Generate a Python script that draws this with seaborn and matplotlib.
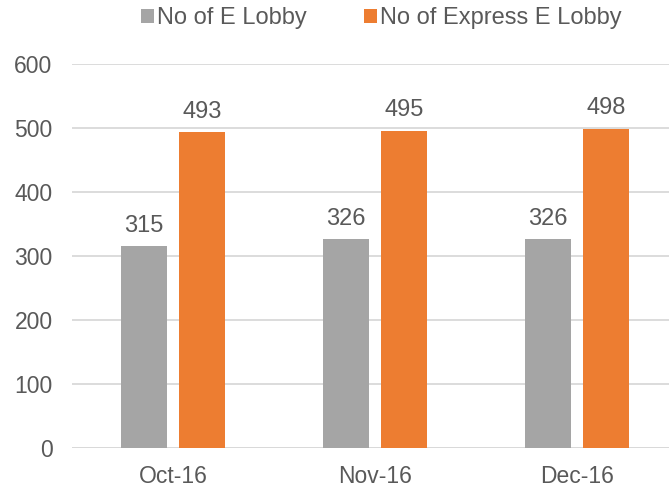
import pandas as pd
import matplotlib.pyplot as plt
from matplotlib.patches import Patch
import seaborn as sns

# dados do gráfico
meses = ['Oct-16', 'Nov-16', 'Dec-16']
e_lobby = [315, 326, 326]
express_e_lobby = [493, 495, 498]
series = ['No of E Lobby', 'No of Express E Lobby']
cores = ['#A5A5A5', '#ED7D31']

df = pd.DataFrame({
    'mes': meses * 2,
    'valor': e_lobby + express_e_lobby,
    'serie': [series[0]] * 3 + [series[1]] * 3,
})

sns.set_style('white')
plt.rcParams['font.family'] = ['Liberation Sans', 'DejaVu Sans']
texto = '#595959'

fig = plt.figure(figsize=(6.69, 4.9), dpi=100)
ax = fig.add_axes([0.1076, 0.085, 1 - 0.1076, 0.785])

sns.barplot(data=df, x='mes', y='valor', hue='serie', palette=cores,
            width=0.574, gap=0.22, saturation=1, linewidth=0,
            ax=ax, legend=False, zorder=3)

for c in ax.containers:
    ax.bar_label(c, padding=7, fontsize=17, color=texto)

ax.set_ylim(0, 600)
ax.set_yticks(range(0, 601, 100))
ax.set_xlim(-0.5, 2.455)
ax.yaxis.grid(True, color='#D9D9D9', linewidth=1.3, zorder=0)
ax.set_axisbelow(True)
for s in ax.spines.values():
    s.set_visible(False)
ax.axhline(0, color='#D9D9D9', linewidth=1.3, zorder=1)
ax.tick_params(axis='both', length=0, labelsize=16.5, colors=texto)
ax.tick_params(axis='y', pad=14)
ax.tick_params(axis='x', pad=12)
ax.set_xlabel('')
ax.set_ylabel('')

handles = [Patch(facecolor=c, edgecolor='none') for c in cores]
fig.legend(handles, series, loc='center', bbox_to_anchor=(0.57, 0.963), ncol=2,
           frameon=False, fontsize=17, labelcolor=texto, handlelength=0.55,
           handleheight=0.55, handletextpad=0.15, columnspacing=2.4)

fig.savefig('out.png', dpi=100)
